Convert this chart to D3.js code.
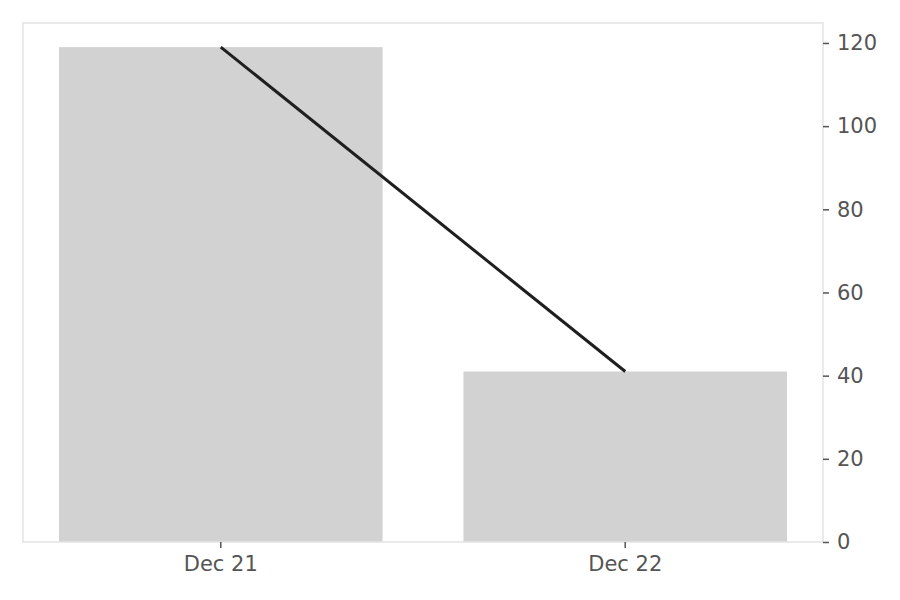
<!DOCTYPE html>
<html>
<head>
<meta charset="utf-8">
<script src="https://cdn.jsdelivr.net/npm/d3@7"></script>
<style>
  body { margin: 0; background: #fff; }
  text { font-family: "DejaVu Sans", sans-serif; }
</style>
</head>
<body>
<svg id="chart" width="900" height="600"></svg>
<script>
// data
const categories = ["Dec 21", "Dec 22"];
const values = [119, 41];
const y_ticks = [0, 20, 40, 60, 80, 100, 120];

const margin = { top: 23, right: 77, bottom: 58, left: 23 },
      width = 900 - margin.left - margin.right,
      height = 600 - margin.top - margin.bottom;

const svg = d3.select("#chart");
const g = svg.append("g").attr("transform", `translate(${margin.left},${margin.top})`);

const x = d3.scaleBand()
    .domain(categories)
    .range([0, width])
    .paddingInner(0.2)
    .paddingOuter(0.089);

const y = d3.scaleLinear()
    .domain([0, 124.8])
    .range([height, 0]);

// bars
g.selectAll(".bar")
  .data(values)
  .enter().append("rect")
    .attr("class", "bar")
    .attr("x", (d, i) => x(categories[i]))
    .attr("width", x.bandwidth())
    .attr("y", d => y(d))
    .attr("height", d => y(0) - y(d))
    .style("fill", "#d2d2d2");

// line through bar tops
const line = d3.line()
    .x((d, i) => x(categories[i]) + x.bandwidth() / 2)
    .y(d => y(d));

g.append("path")
    .datum(values)
    .attr("d", line)
    .style("fill", "none")
    .style("stroke", "#1f1f1f")
    .style("stroke-width", 3);

// frame
g.append("rect")
    .attr("x", 0).attr("y", 0)
    .attr("width", width).attr("height", height)
    .style("fill", "none")
    .style("stroke", "#e3e3e3")
    .style("stroke-width", 1.5);

// right axis
const yAxis = g.append("g")
    .attr("transform", `translate(${width},0)`)
    .call(d3.axisRight(y).tickValues(y_ticks).tickSize(6).tickPadding(8));
yAxis.select(".domain").remove();

// bottom axis
const xAxis = g.append("g")
    .attr("transform", `translate(0,${height})`)
    .call(d3.axisBottom(x).tickSize(6).tickPadding(8));
xAxis.select(".domain").remove();

svg.selectAll(".tick line").style("stroke", "#555").style("stroke-width", 1.5);
svg.selectAll(".tick text")
    .attr("font-size", 21)
    .style("font-size", "21px")
    .style("fill", "#555")
    .style("font-family", "DejaVu Sans, sans-serif");
</script>
</body>
</html>
